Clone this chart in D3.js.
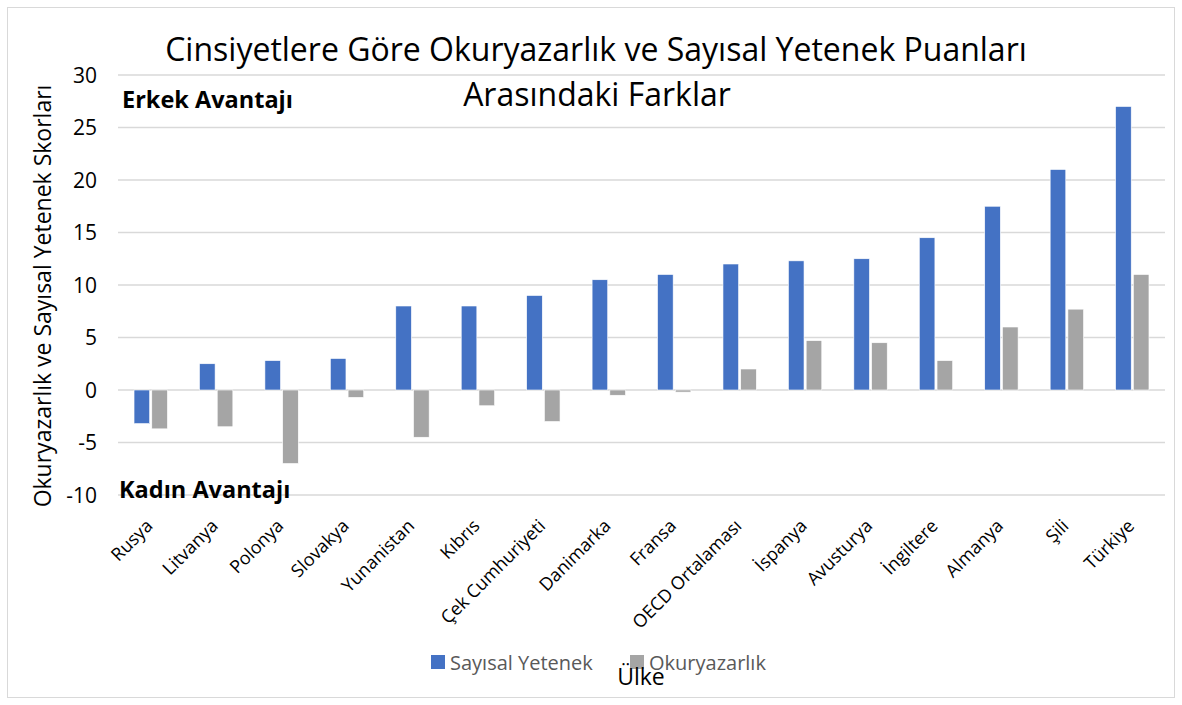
<!DOCTYPE html>
<html>
<head>
<meta charset="utf-8">
<script src="https://cdn.jsdelivr.net/npm/d3@7"></script>
<style>
body { margin: 0; background: #fff; }
text { font-family: "Open Sans", "Noto Sans", sans-serif; }
</style>
</head>
<body>
<svg id="chart" width="1182" height="705"></svg>
<script>
var countries = ["Rusya", "Litvanya", "Polonya", "Slovakya", "Yunanistan", "Kıbrıs", "Çek Cumhuriyeti",
  "Danimarka", "Fransa", "OECD Ortalaması", "İspanya", "Avusturya", "İngiltere", "Almanya", "Şili", "Türkiye"];
var sayisal = [-3.2, 2.5, 2.8, 3.0, 8, 8, 9, 10.5, 11, 12, 12.3, 12.5, 14.5, 17.5, 21, 27];
var okuryazarlik = [-3.7, -3.5, -7, -0.7, -4.5, -1.5, -3, -0.5, -0.2, 2, 4.7, 4.5, 2.8, 6, 7.7, 11];
var seriesNames = ["Sayısal Yetenek", "Okuryazarlık"];
var colors = ["#4472C4", "#A5A5A5"];
var yTicks = [-10, -5, 0, 5, 10, 15, 20, 25, 30];

var svg = d3.select("#chart");

svg.append("rect")
  .attr("x", 7.5).attr("y", 7.5)
  .attr("width", 1167).attr("height", 690)
  .attr("fill", "none")
  .attr("stroke", "#d9d9d9");

var x0 = d3.scaleBand().domain(countries).range([118, 1165]);
var x1 = d3.scaleBand().domain(seriesNames)
  .range([x0.bandwidth() * 0.245, x0.bandwidth() * 0.755])
  .paddingInner(0.12);
var y = d3.scaleLinear().domain([-10, 30]).range([495, 75]);

// gridlines
svg.append("g")
  .selectAll("line")
  .data(yTicks)
  .enter().append("line")
  .attr("x1", 118).attr("x2", 1165)
  .attr("y1", function (d) { return y(d); })
  .attr("y2", function (d) { return y(d); })
  .attr("stroke", "#d9d9d9")
  .attr("stroke-width", 1.5);

// y tick labels
svg.append("g")
  .selectAll("text")
  .data(yTicks)
  .enter().append("text")
  .attr("x", 97)
  .attr("y", function (d) { return y(d) + 7.5; })
  .attr("text-anchor", "end")
  .attr("font-size", 21)
  .attr("fill", "#000")
  .text(function (d) { return d; });

// bars
var rows = countries.map(function (c, i) {
  return { name: c, values: [sayisal[i], okuryazarlik[i]] };
});

var groups = svg.append("g")
  .selectAll("g")
  .data(rows)
  .enter().append("g")
  .attr("transform", function (d) { return "translate(" + x0(d.name) + ",0)"; });

groups.selectAll("rect")
  .data(function (d) { return d.values.map(function (v, j) { return { key: seriesNames[j], value: v, j: j }; }); })
  .enter().append("rect")
  .attr("x", function (d) { return x1(d.key); })
  .attr("width", x1.bandwidth())
  .attr("y", function (d) { return y(Math.max(0, d.value)); })
  .attr("height", function (d) { return Math.abs(y(d.value) - y(0)); })
  .attr("fill", function (d) { return colors[d.j]; })
  .attr("stroke", "#fff")
  .attr("stroke-width", 0.6);

// x labels
svg.append("g")
  .selectAll("text")
  .data(countries)
  .enter().append("text")
  .attr("text-anchor", "end")
  .attr("font-size", 18)
  .attr("fill", "#000")
  .attr("transform", function (d) {
    return "translate(" + (x0(d) + x0.bandwidth() / 2 + 3) + ",527) rotate(-45)";
  })
  .text(function (d) { return d; });

// title
svg.append("text")
  .attr("x", 596).attr("y", 61)
  .attr("text-anchor", "middle")
  .attr("font-size", 32)
  .attr("fill", "#000")
  .text("Cinsiyetlere Göre Okuryazarlık ve Sayısal Yetenek Puanları");
svg.append("text")
  .attr("x", 597).attr("y", 106)
  .attr("text-anchor", "middle")
  .attr("font-size", 32)
  .attr("fill", "#000")
  .text("Arasındaki Farklar");

// annotations
svg.append("text")
  .attr("x", 122).attr("y", 108)
  .attr("font-size", 23.5)
  .attr("font-weight", "bold")
  .text("Erkek Avantajı");
svg.append("text")
  .attr("x", 119).attr("y", 498)
  .attr("font-size", 23.5)
  .attr("font-weight", "bold")
  .text("Kadın Avantajı");

// y axis title
svg.append("text")
  .attr("transform", "translate(51,296) rotate(-90)")
  .attr("text-anchor", "middle")
  .attr("font-size", 23)
  .attr("fill", "#000")
  .text("Okuryazarlık ve Sayısal Yetenek Skorları");

// legend
var legendX = [431, 630];
var legend = svg.append("g");
seriesNames.forEach(function (s, i) {
  legend.append("rect")
    .attr("x", legendX[i]).attr("y", 655)
    .attr("width", 14).attr("height", 14)
    .attr("fill", colors[i]);
  legend.append("text")
    .attr("x", legendX[i] + 19).attr("y", 670)
    .attr("font-size", 20)
    .attr("fill", "#595959")
    .text(s);
});

// x axis title
svg.append("text")
  .attr("x", 641).attr("y", 685)
  .attr("text-anchor", "middle")
  .attr("font-size", 23)
  .attr("fill", "#000")
  .text("Ülke");
</script>
</body>
</html>
